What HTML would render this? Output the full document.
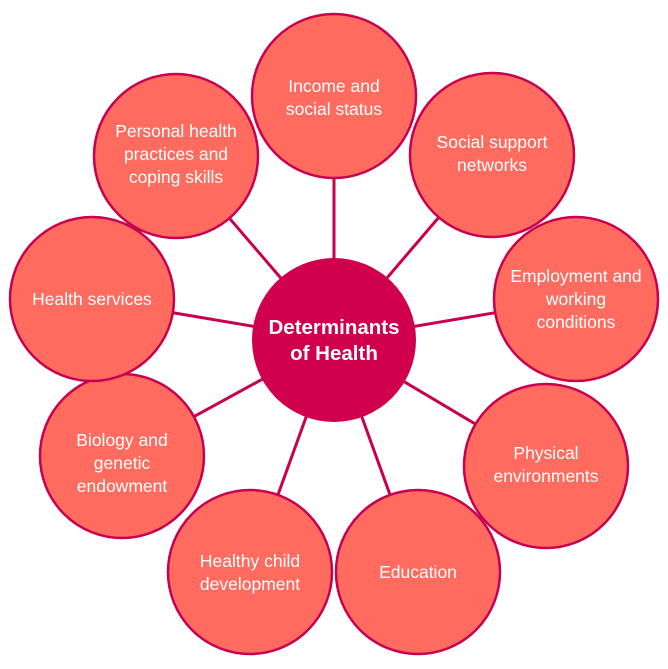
<!DOCTYPE html>
<html><head><style>body{margin:0;background:#fff}</style></head><body>
<svg width="668" height="664" viewBox="0 0 668 664" xmlns="http://www.w3.org/2000/svg" font-family="Liberation Sans, sans-serif">
<g stroke="#C8004F" stroke-width="3">
<line x1="334" y1="340" x2="334" y2="96"/>
<line x1="334" y1="340" x2="492" y2="155"/>
<line x1="334" y1="340" x2="576" y2="299"/>
<line x1="334" y1="340" x2="546" y2="466"/>
<line x1="334" y1="340" x2="418" y2="572"/>
<line x1="334" y1="340" x2="250" y2="572"/>
<line x1="334" y1="340" x2="122" y2="456"/>
<line x1="334" y1="340" x2="92" y2="299"/>
<line x1="334" y1="340" x2="176" y2="156"/>
</g>
<g fill="#FF6B5F" stroke="#C8004F" stroke-width="2.5">
<circle cx="334" cy="96" r="82"/>
<circle cx="492" cy="155" r="82"/>
<circle cx="576" cy="299" r="82"/>
<circle cx="546" cy="466" r="82"/>
<circle cx="418" cy="572" r="82"/>
<circle cx="250" cy="572" r="82"/>
<circle cx="122" cy="456" r="82"/>
<circle cx="92" cy="299" r="82"/>
<circle cx="176" cy="156" r="82"/>
</g>
<circle cx="334" cy="340" r="82" fill="#D1004D"/>
<g fill="#fff" font-size="17.5" text-anchor="middle">
<text x="334" y="92">Income and</text><text x="334" y="115">social status</text>
<text x="492" y="148">Social support</text><text x="492" y="171">networks</text>
<text x="576" y="282">Employment and</text><text x="576" y="305">working</text><text x="576" y="328">conditions</text>
<text x="546" y="459">Physical</text><text x="546" y="482">environments</text>
<text x="418" y="578">Education</text>
<text x="250" y="567">Healthy child</text><text x="250" y="590">development</text>
<text x="122" y="446">Biology and</text><text x="122" y="469">genetic</text><text x="122" y="492">endowment</text>
<text x="92" y="305">Health services</text>
<text x="176" y="137">Personal health</text><text x="176" y="160">practices and</text><text x="176" y="183">coping skills</text>
</g>
<g fill="#fff" font-size="20.5" font-weight="bold" text-anchor="middle">
<text x="334" y="334">Determinants</text><text x="334" y="360">of Health</text>
</g>
</svg>
</body></html>
